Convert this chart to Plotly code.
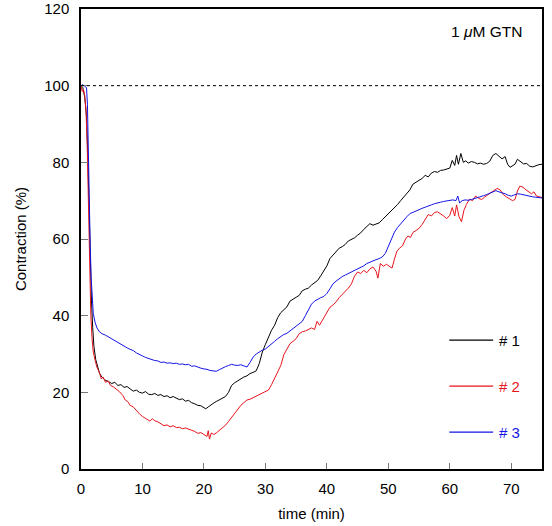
import plotly.graph_objects as go

# ---- data ----
t1 = [0, 0.3, 0.6, 0.9, 1.1, 1.3, 1.5, 1.7, 1.9, 2.1, 2.4, 2.7, 3.0, 3.4, 3.9, 4.5, 5.0, 5.5, 6.0, 6.5,
      7.0, 7.5, 8.0, 8.5, 9.0, 9.5, 10, 10.5, 11, 11.5, 12, 12.5, 13, 13.5, 14, 14.5, 15, 15.5, 16, 16.5,
      17, 17.5, 18, 18.5, 19, 19.5, 20, 20.3, 20.7, 21, 21.5, 22, 22.5, 23, 23.5, 24, 24.5, 25, 25.5, 26,
      26.5, 27, 27.5, 28, 28.5, 29, 29.5, 30, 30.5, 31, 31.5, 32, 32.5, 33, 33.5, 34, 34.5, 35, 35.5, 36,
      36.5, 37, 37.5, 38, 38.5, 39, 39.5, 40, 40.5, 41, 41.5, 42, 42.5, 43, 43.5, 44, 44.5, 45, 45.5, 46,
      46.5, 47, 47.5, 48, 48.5, 49, 49.5, 50, 50.5, 51, 51.5, 52, 52.5, 53, 53.5, 54, 54.5, 55, 55.5, 56,
      56.5, 57, 57.5, 58, 58.5, 59, 59.5, 60, 60.4, 60.8, 61.1, 61.4, 61.8, 62.2, 62.6, 63.0, 63.5, 64,
      64.5, 65, 65.5, 66, 66.5, 67, 67.5, 68, 68.5, 69, 69.4, 69.8, 70.2, 70.6, 71, 71.5, 72, 72.5, 73,
      73.5, 74, 74.5, 75]
v1 = [100, 99.5, 97, 92, 82, 68, 55, 44, 37, 32, 28.5, 26.5, 25, 24, 23.2, 22.8, 22.3, 22.6, 21.8, 22.0,
      21.3, 21.5, 20.8, 20.3, 20.6, 20.0, 19.8, 20.2, 19.5, 19.4, 19.7, 19.2, 19.4, 18.9, 19.1, 18.6, 18.9, 18.4, 18.1, 18.3,
      17.7, 17.9, 17.3, 17.0, 16.6, 16.5, 16.0, 15.7, 16.2, 16.6, 17.1, 17.6, 18.0, 18.5, 18.9, 20.0, 21.8, 22.5, 23.0, 23.6,
      24.0, 24.3, 24.9, 25.2, 25.6, 27.5, 30.5, 32.5, 34.5, 36.2, 37.5, 39.5, 40.8, 41.5, 42.3, 43.8, 44.2, 44.8, 45.3, 46.5,
      46.9, 47.2, 48.0, 48.6, 49.2, 50.4, 51.6, 53.0, 54.9, 55.8, 56.5, 57.6, 58.0, 58.6, 59.5, 59.9, 60.3, 61.0, 61.6, 62.5,
      63.2, 64.0, 63.6, 63.9, 64.2, 65.0, 65.8, 66.5, 67.3, 68.2, 69.0, 70.0, 71.0, 72.1, 72.8, 74.3, 74.8, 75.2, 75.8, 76.6,
      76.2, 77.2, 77.6, 77.4, 77.9, 78.0, 78.3, 78.5, 80.5, 79.2, 81.8, 79.5, 82.3, 80.0, 80.4, 79.8, 80.2, 80.0,
      79.6, 79.8, 79.5, 79.7, 80.3, 81.8, 82.3, 81.7, 80.9, 81.5, 79.5, 78.7, 79.0, 79.5, 80.8, 80.3, 79.6, 79.7, 79.0,
      78.8, 79.2, 79.4, 79.5]

t2 = [0, 0.2, 0.4, 0.6, 0.8, 1.0, 1.2, 1.4, 1.6, 1.8, 2.0, 2.3, 2.6, 3.0, 3.3, 3.6, 4.0, 4.4, 4.8, 5.3,
      5.8, 6.3, 6.8, 7.2, 7.6, 8.0, 8.5, 9.0, 9.5, 10, 10.5, 11, 11.2, 11.6, 12, 12.5, 13, 13.5, 14, 14.5,
      15, 15.5, 16, 16.5, 17, 17.5, 18, 18.5, 19, 19.5, 20, 20.5, 20.7, 20.9, 21.2, 21.6, 22, 22.5, 23, 23.5,
      24, 24.5, 25, 25.5, 26, 26.5, 27, 27.5, 28, 28.5, 29, 29.5, 30, 30.5, 31, 31.5, 32, 32.5, 33, 33.5,
      34, 34.5, 35, 35.5, 36, 36.5, 37, 37.5, 38, 38.4, 38.8, 39.2, 39.6, 40, 40.5, 41, 41.5, 42, 42.5, 43,
      43.5, 44, 44.5, 45, 45.5, 46, 46.5, 47, 47.5, 48, 48.3, 48.7, 49.2, 49.7, 50.2, 50.6, 51, 51.4, 51.8, 52.3,
      52.8, 53.2, 53.6, 54, 54.5, 55, 55.5, 56, 56.5, 57, 57.5, 58, 58.5, 59, 59.5, 60, 60.4, 60.8, 61.1, 61.5,
      61.9, 62.3, 62.7, 63.2, 63.7, 64.2, 64.7, 65.2, 65.7, 66.2, 66.7, 67.2, 67.7, 68.2, 68.7, 69.2, 69.7, 70.2,
      70.6, 71.0, 71.4, 71.9, 72.4, 72.9, 73.3, 73.7, 74.1, 74.6, 75]
v2 = [100, 98.5, 99, 97.5, 94, 85, 70, 52, 40, 34, 30.5, 28.3, 26.5, 25.2, 23.5, 24.0, 22.6, 23.0, 21.8, 21.4,
      20.8, 20.1, 19.2, 18.0, 17.6, 16.6, 16.2, 15.2, 14.4, 13.7, 13.2, 12.9, 12.5, 13.1, 12.6, 12.3, 11.9, 11.3, 11.5, 11.0,
      11.3, 10.8, 10.9, 10.5, 10.7, 10.3, 10.1, 9.8, 9.3, 9.5, 9.0, 8.5, 10.0, 7.8, 9.4, 9.0, 9.4, 10.0, 10.6, 11.4,
      12.4, 13.5, 14.6, 15.8, 16.6, 17.3, 18.0, 18.2, 18.6, 19.0, 19.3, 19.7, 20.2, 20.6, 22.0, 23.6, 25.2, 27.0, 29.8, 31.3,
      32.7, 33.3, 34.0, 35.3, 35.8, 36.0, 36.3, 36.8, 36.4, 38.5, 37.5, 38.6, 40.0, 40.8, 42.2, 42.8, 43.6, 44.7, 45.5, 46.2,
      47.2, 48.3, 50.3, 51.4, 51.0, 51.8, 51.2, 52.2, 52.7, 51.6, 49.8, 53.6, 52.9, 53.4, 52.8, 52.4, 54.8, 56.8, 57.6, 58.2,
      60.0, 60.8, 60.4, 61.7, 62.2, 62.8, 63.8, 65.0, 66.4, 66.0, 66.9, 67.1, 66.6, 66.0, 65.3, 66.2, 68.2, 66.0, 68.9, 65.8,
      64.5, 67.5, 69.0, 70.4, 70.0, 71.2, 70.6, 70.3, 71.0, 71.6, 72.0, 72.6, 73.2, 72.8, 71.6, 71.0, 70.6, 70.0,
      70.3, 72.5, 73.8, 73.5, 72.8, 72.2, 71.8, 72.3, 71.2, 71.0, 70.8]

t3 = [0, 0.3, 0.6, 0.9, 1.05, 1.2, 1.35, 1.5, 1.65, 1.8, 2.0, 2.3, 2.6, 3.0, 3.4, 4.0, 4.5, 5.0, 5.5, 6.0,
      6.5, 7.0, 7.5, 8.0, 8.5, 9.0, 9.5, 10, 10.5, 11, 11.5, 12, 12.5, 13, 13.5, 14, 14.5, 15, 15.5, 16,
      16.5, 17, 17.5, 18, 18.5, 19, 19.5, 20, 20.5, 21, 21.5, 22, 22.5, 23, 23.5, 24, 24.5, 25, 25.5, 26,
      26.5, 27, 27.5, 28, 28.5, 29, 29.5, 30, 30.5, 31, 31.5, 32, 32.5, 33, 33.5, 34, 34.5, 35, 35.5, 36,
      36.5, 37, 37.5, 38, 38.5, 39, 39.5, 40, 40.5, 41, 41.5, 42, 42.5, 43, 43.5, 44, 44.5, 45, 45.5, 46,
      46.5, 47, 47.5, 48, 48.5, 49, 49.5, 50, 50.5, 51, 51.5, 52, 52.5, 53, 53.5, 54, 54.5, 55, 55.5, 56,
      56.5, 57, 57.5, 58, 58.5, 59, 59.5, 60, 60.5, 61, 61.3, 61.6, 62, 62.5, 63, 63.5, 64, 64.5, 65, 65.5,
      66, 66.5, 67, 67.5, 68, 68.5, 69, 69.5, 70, 70.5, 71, 71.5, 72, 72.5, 73, 73.5, 74, 74.5, 75]
v3 = [100, 100.3, 99.8, 99.5, 95, 80, 68, 58, 50, 44.5, 40.5, 38.2, 36.8, 35.8, 35.3, 34.9, 34.4, 34.0, 33.6, 33.0,
      32.6, 32.1, 31.6, 31.2, 30.9, 30.3, 29.8, 29.5, 29.1, 28.8, 28.5, 28.3, 28.2, 27.8, 27.9, 27.6, 27.7, 27.5, 27.6, 27.3,
      27.4, 27.2, 27.3, 26.8, 26.9, 26.5, 26.3, 26.1, 26.0, 25.7, 25.6, 25.5, 25.9, 26.4, 26.7, 27.0, 27.3, 27.1, 27.0, 27.2,
      26.8, 26.6, 27.8, 29.2, 30.0, 30.6, 31.0, 31.3, 31.9, 32.6, 33.3, 34.0, 34.6, 35.1, 35.4, 36.0, 36.6, 37.2, 37.8, 38.5,
      40.0, 41.6, 43.0, 43.8, 44.3, 44.7, 45.0, 45.8, 47.0, 48.3, 49.0, 49.7, 50.2, 50.6, 51.0, 51.3, 51.7, 52.0, 52.4, 53.0,
      53.6, 54.0, 54.3, 54.6, 54.9, 55.3, 56.2, 58.0, 60.0, 61.8, 63.0, 64.0, 64.8, 65.8, 66.6, 67.0, 67.3, 67.6, 68.0, 68.3,
      68.7, 68.9, 69.2, 69.5, 69.6, 69.8, 69.9, 70.0, 70.2, 70.0, 71.2, 69.4, 70.0, 70.2, 70.1, 70.3, 70.5, 70.8, 71.0, 71.3,
      71.6, 72.0, 72.4, 72.6, 72.3, 72.1, 71.8, 71.4, 71.2, 71.5, 71.8, 71.7, 71.5, 71.4, 71.2, 71.0, 70.9, 70.8, 70.7]

series = [("# 1", t1, v1, "#000000"), ("# 2", t2, v2, "#e8141c"), ("# 3", t3, v3, "#1414e6")]
x_ticks = [0, 10, 20, 30, 40, 50, 60, 70]
y_ticks = [0, 20, 40, 60, 80, 100, 120]
baseline = 100

FONT = "Liberation Sans, Arial, Helvetica, sans-serif"

fig = go.Figure()
for name, t, v, c in series:
    fig.add_trace(go.Scatter(x=t, y=v, mode="lines", name=name,
                             line=dict(color=c, width=1.0), showlegend=False))

# dotted 100 % reference line
fig.add_shape(type="line", xref="x", yref="y", x0=0, x1=75, y0=baseline, y1=baseline,
              line=dict(color="black", width=1, dash="dot"))

# legend drawn manually (line sample + coloured label)
leg_y = [0.280, 0.180, 0.080]
for (name, t, v, c), yy in zip(series, leg_y):
    fig.add_shape(type="line", xref="paper", yref="paper", x0=0.799, x1=0.894, y0=yy, y1=yy,
                  line=dict(color=c, width=1.2))
    fig.add_annotation(xref="paper", yref="paper", x=0.903, y=yy, text=name, showarrow=False,
                       xanchor="left", yanchor="middle", font=dict(family=FONT, size=15, color=c))

fig.add_annotation(xref="paper", yref="paper", x=0.960, y=0.951, text="1 <i>μ</i>M GTN",
                   showarrow=False, xanchor="right", yanchor="middle",
                   font=dict(family=FONT, size=15.5, color="black"))

fig.update_layout(
    width=552, height=526,
    margin=dict(l=81, r=10, t=9, b=57, autoexpand=False),
    paper_bgcolor="white", plot_bgcolor="white",
    font=dict(family=FONT, size=15, color="black"),
)
fig.update_xaxes(range=[0, 75], tickvals=x_ticks, ticks="inside", ticklen=6, tickcolor="#777",
                 showline=True, linecolor="black", linewidth=1.5, mirror=True, showgrid=False,
                 zeroline=False, tickfont=dict(size=15), ticklabelstandoff=5, automargin=False,
                 title=dict(text="time (min)", font=dict(size=15), standoff=13))
fig.update_yaxes(range=[0, 120], tickvals=y_ticks, ticks="inside", ticklen=7, tickcolor="#777",
                 showline=True, linecolor="black", linewidth=1.5, mirror=True, showgrid=False,
                 zeroline=False, tickfont=dict(size=15), ticklabelstandoff=7, automargin=False,
                 title=dict(text="Contraction (%)", font=dict(size=15), standoff=14))

fig.write_html("out.html")
